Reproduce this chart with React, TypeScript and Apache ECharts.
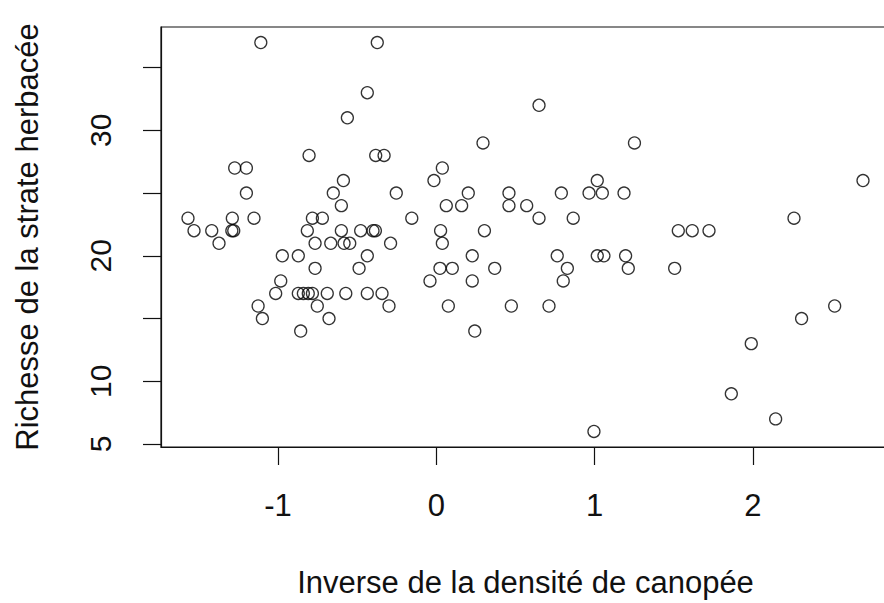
import React, { useEffect, useRef } from "react";
import * as echarts from "echarts";

const xValues: number[] = [
  -1.109, -0.373, -0.436, -0.562, -0.804, -0.383, -0.33, -1.274, -1.2, -1.2,
  -0.587, -0.651, -0.6, -1.569, -1.289, -1.152, -0.783, -0.72, -1.531, -1.419,
  -1.292, -1.28, -0.815, -0.6, -0.478, -0.4, -0.385, -1.373, -0.766, -0.667,
  -0.583, -0.547, -0.289, -0.973, -0.872, -0.436, -0.766, -0.488, -0.983, -1.015,
  -0.872, -0.84, -0.809, -0.783, -0.689, -0.572, -0.436, -0.343, -0.299, -1.126,
  -0.752, -1.099, -0.678, -0.857,
  0.649, 0.295, 1.252, 0.038, -0.015, -0.253, 0.202, 0.459, 0.79, 1.017,
  0.965, 1.049, 1.186, 0.063, 0.16, 0.459, 0.571, -0.155, 0.649, 0.865,
  0.027, 0.304, 0.038, 0.227, 0.764, 1.017, 1.059, 1.196, 0.023, 0.101,
  0.369, 0.828, 1.213, -0.04, 0.227, 0.802, 0.076, 0.474, 0.712, 0.243,
  0.996, 1.529, 1.617, 1.723, 1.506, 2.696, 2.26, 2.517, 2.308, 1.99,
  1.864, 2.144,
];

const yValues: number[] = [
  37, 37, 33, 31, 28, 28, 28, 27, 27, 25,
  26, 25, 24, 23, 23, 23, 23, 23, 22, 22,
  22, 22, 22, 22, 22, 22, 22, 21, 21, 21,
  21, 21, 21, 20, 20, 20, 19, 19, 18, 17,
  17, 17, 17, 17, 17, 17, 17, 17, 16, 16,
  16, 15, 15, 14,
  32, 29, 29, 27, 26, 25, 25, 25, 25, 26,
  25, 25, 25, 24, 24, 24, 24, 23, 23, 23,
  22, 22, 21, 20, 20, 20, 20, 20, 19, 19,
  19, 19, 19, 18, 18, 18, 16, 16, 16, 14,
  6, 22, 22, 22, 19, 26, 23, 16, 15, 13,
  9, 7,
];

const xTicks: number[] = [-1, 0, 1, 2];
const yTicks: number[] = [5, 10, 15, 20, 25, 30, 35];
const yTickLabels: number[] = [5, 10, 20, 30];

const xTitle = "Inverse de la densité de canopée";
const yTitle = "Richesse de la strate herbacée";

function rangeWithPad(vals: number[]): [number, number] {
  const mn = Math.min(...vals);
  const mx = Math.max(...vals);
  const pad = (mx - mn) * 0.04;
  return [mn - pad, mx + pad];
}

export default function App() {
  const ref = useRef<HTMLDivElement>(null);

  useEffect(() => {
    if (!ref.current) return;
    const chart = echarts.init(ref.current, undefined, { renderer: "svg" });
    const [xMin, xMax] = rangeWithPad(xValues);
    const [yMin, yMax] = rangeWithPad(yValues);
    const font = "'Liberation Sans', Arial, sans-serif";
    const data = xValues.map((x, i) => [x, yValues[i]]);
    chart.setOption({
      animation: false,
      backgroundColor: "#fff",
      grid: {
        left: 161,
        top: 27,
        width: 729,
        height: 421,
        show: true,
        borderColor: "#111",
        borderWidth: 1.2,
        containLabel: false,
      },
      xAxis: {
        type: "value",
        min: xMin,
        max: xMax,
        name: xTitle,
        nameLocation: "middle",
        nameGap: 120,
        nameTextStyle: { fontFamily: font, fontSize: 31, color: "#111" },
        axisLine: { show: true, onZero: false, lineStyle: { color: "#111", width: 1.2 } },
        axisTick: {
          show: true,
          length: 18,
          customValues: xTicks,
          lineStyle: { color: "#111", width: 1.2 },
        },
        axisLabel: {
          customValues: xTicks,
          margin: 43,
          fontFamily: font,
          fontSize: 31,
          color: "#111",
          formatter: (v: number) => String(v),
        },
        splitLine: { show: false },
      },
      yAxis: {
        type: "value",
        min: yMin,
        max: yMax,
        name: yTitle,
        nameLocation: "middle",
        nameGap: 118,
        nameRotate: 90,
        nameTextStyle: { fontFamily: font, fontSize: 31, color: "#111" },
        axisLine: { show: true, onZero: false, lineStyle: { color: "#111", width: 1.2 } },
        axisTick: {
          show: true,
          length: 18,
          customValues: yTicks,
          lineStyle: { color: "#111", width: 1.2 },
        },
        axisLabel: {
          customValues: yTickLabels,
          rotate: 90,
          margin: 46,
          fontFamily: font,
          fontSize: 30,
          color: "#111",
          formatter: (v: number) => String(v),
        },
        splitLine: { show: false },
      },
      series: [
        {
          type: "scatter",
          data,
          symbol: "circle",
          symbolSize: 12,
          itemStyle: {
            color: "rgba(0,0,0,0)",
            borderColor: "#000",
            borderWidth: 1.3,
          },
          emphasis: { disabled: true },
        },
      ],
    });
    return () => chart.dispose();
  }, []);

  return (
    <div
      style={{
        position: "fixed",
        left: 0,
        top: 0,
        width: 884,
        height: 603,
        overflow: "hidden",
        background: "#fff",
      }}
    >
      <div ref={ref} style={{ width: 900, height: 603 }} />
    </div>
  );
}
